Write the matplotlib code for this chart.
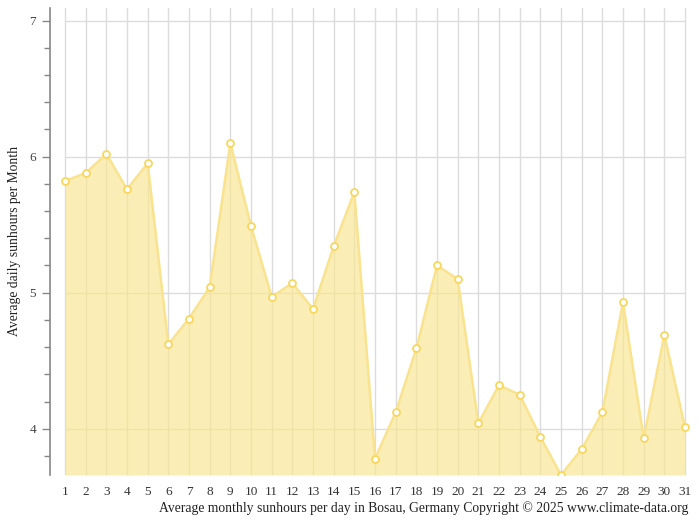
import numpy as np
import matplotlib
matplotlib.use('Agg')
import matplotlib.pyplot as plt
from matplotlib.ticker import MultipleLocator

days = list(range(1, 32))
sunhours = [5.82, 5.88, 6.02, 5.76, 5.95, 4.62, 4.81, 5.04, 6.10, 5.49,
            4.97, 5.07, 4.88, 5.34, 5.74, 3.78, 4.12, 4.59, 5.20, 5.10,
            4.04, 4.32, 4.25, 3.94, 3.66, 3.85, 4.12, 4.93, 3.93, 4.69,
            4.01]
yticks = [4, 5, 6, 7]

plt.rcParams['font.family'] = ['Liberation Serif', 'DejaVu Serif']

fig = plt.figure(figsize=(7, 5.24), dpi=100)
ax = fig.add_axes([50 / 700, 49 / 524, 640 / 700, 467 / 524])

x0 = 1 - 15 / 20.667
ax.set_xlim(x0, 31 + 5 / 20.667)
ymin = min(sunhours)
ax.set_ylim(ymin, 7 + 12.5 / 135.8)

# grid
for d in days:
    ax.axvline(d, color='#dcdcdc', lw=1, zorder=0)
ax.hlines(yticks, 1, 31, color='#dcdcdc', lw=1, zorder=0)

ax.fill_between(days, sunhours, ymin, color='#f8e68f', alpha=0.65, lw=0, zorder=1)
ax.plot(days, sunhours, color='#f9e38f', lw=1.8, zorder=2)
ax.plot(days, sunhours, 'o', ms=5, mfc='white', mec='#f7d75e', mew=1.3, zorder=3)

for s in ['top', 'right', 'bottom']:
    ax.spines[s].set_visible(False)
ax.spines['left'].set_color('#888888')
ax.spines['left'].set_linewidth(1.2)

ax.set_xticks(days)
ax.set_xticklabels([str(d) for d in days])
ax.tick_params(axis='x', length=0, pad=8, labelsize=9.5, colors='#333333')
ax.set_yticks(yticks)
ax.yaxis.set_minor_locator(MultipleLocator(0.2))
ax.tick_params(axis='y', which='major', length=6, width=1, color='#888888',
               labelsize=9.5, labelcolor='#444444', pad=4)
ax.tick_params(axis='y', which='minor', length=4, width=1, color='#888888')

fig.text(15 / 700, 1 - 241 / 524, 'Average daily sunhours per Month', rotation=90,
         ha='center', va='center', fontsize=9.8, color='#222222')
fig.text(688 / 700, 1 - 508 / 524,
         'Average monthly sunhours per day in Bosau, Germany Copyright \u00a9 2025 www.climate-data.org',
         ha='right', va='center', fontsize=9.8, color='#222222')

fig.savefig('out.png', dpi=100)
